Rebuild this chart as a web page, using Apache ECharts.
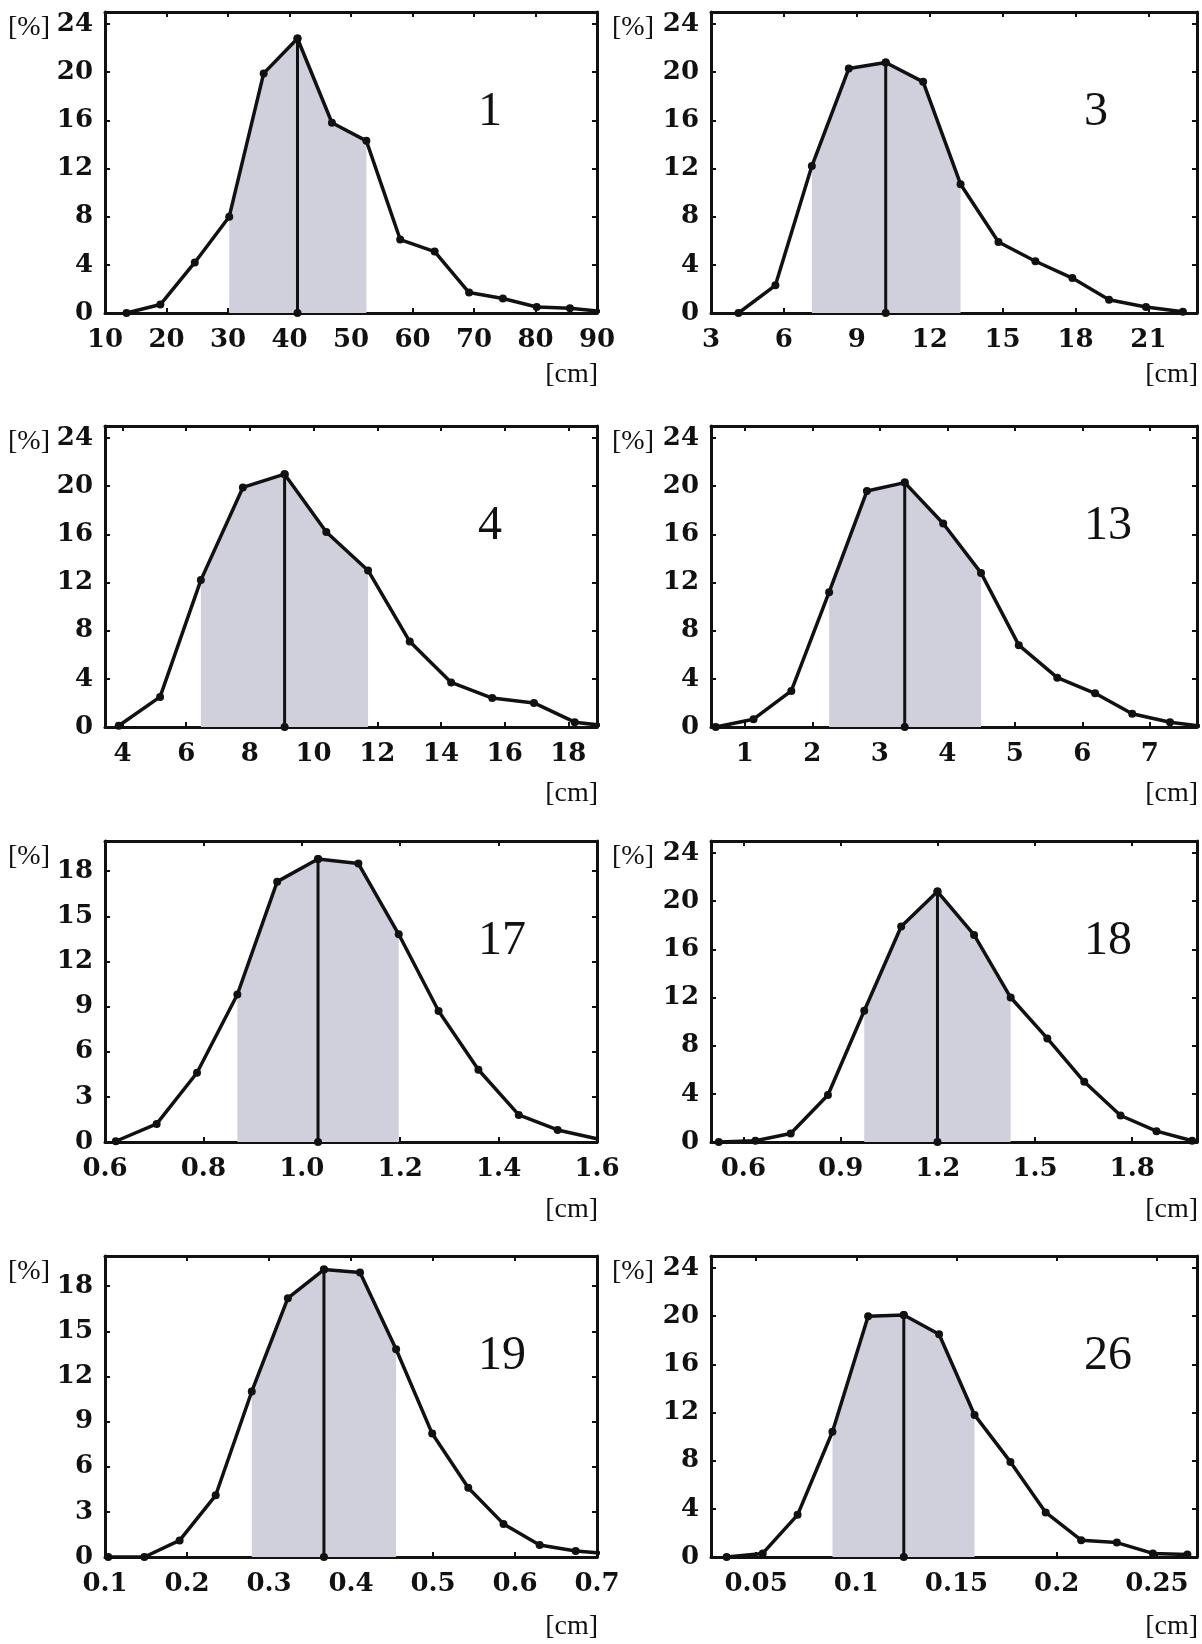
<!DOCTYPE html>
<html>
<head>
<meta charset="utf-8">
<script src="https://cdn.jsdelivr.net/npm/echarts@6/dist/echarts.min.js"></script>
<style>
  html, body { margin: 0; padding: 0; background: #ffffff; }
  #chart { width: 1202px; height: 1644px; }
</style>
</head>
<body>
<div id="chart"></div>
<script>
// Size distributions per sample: class centre [cm] and share [%]
const cm_1  = [13.5, 19.0, 24.6, 30.2, 35.8, 41.3, 46.9, 52.5, 58.0, 63.6, 69.2, 74.7, 80.2, 85.6, 91.2];
const pct_1 = [0.0, 0.7, 4.2, 8.0, 19.9, 22.8, 15.8, 14.3, 6.1, 5.1, 1.7, 1.2, 0.5, 0.4, 0.1];

const cm_3  = [4.13, 5.65, 7.15, 8.67, 10.19, 11.73, 13.27, 14.83, 16.35, 17.87, 19.38, 20.90, 22.42];
const pct_3 = [0.0, 2.3, 12.2, 20.3, 20.8, 19.2, 10.7, 5.9, 4.3, 2.9, 1.1, 0.5, 0.1];

const cm_4  = [3.88, 5.18, 6.46, 7.78, 9.09, 10.40, 11.71, 13.02, 14.32, 15.61, 16.92, 18.20, 19.50];
const pct_4 = [0.1, 2.5, 12.2, 19.9, 21.0, 16.2, 13.0, 7.1, 3.7, 2.4, 2.0, 0.4, 0.0];

const cm_13  = [0.57, 1.13, 1.69, 2.25, 2.81, 3.37, 3.94, 4.50, 5.06, 5.63, 6.19, 6.74, 7.30, 7.86];
const pct_13 = [0.0, 0.65, 3.0, 11.2, 19.6, 20.3, 16.9, 12.8, 6.8, 4.1, 2.8, 1.1, 0.4, 0.0];

const cm_17  = [0.622, 0.705, 0.787, 0.869, 0.950, 1.033, 1.115, 1.197, 1.278, 1.359, 1.441, 1.520, 1.602];
const pct_17 = [0.05, 1.2, 4.6, 9.8, 17.3, 18.8, 18.5, 13.8, 8.7, 4.8, 1.8, 0.8, 0.2];

const cm_18  = [0.524, 0.637, 0.746, 0.861, 0.973, 1.087, 1.199, 1.312, 1.425, 1.538, 1.652, 1.764, 1.875, 1.985];
const pct_18 = [0.0, 0.1, 0.7, 3.9, 10.9, 17.9, 20.8, 17.2, 12.0, 8.6, 5.0, 2.2, 0.9, 0.1];

const cm_19  = [0.104, 0.148, 0.191, 0.235, 0.279, 0.323, 0.367, 0.411, 0.455, 0.499, 0.543, 0.586, 0.630, 0.674, 0.718];
const pct_19 = [0.0, 0.0, 1.1, 4.1, 11.0, 17.2, 19.1, 18.9, 13.8, 8.2, 4.6, 2.2, 0.8, 0.4, 0.2];

const cm_26  = [0.0353, 0.0533, 0.0707, 0.0881, 0.1059, 0.1237, 0.1413, 0.1590, 0.1769, 0.1945, 0.2122, 0.2300, 0.2480, 0.2652];
const pct_26 = [0.0, 0.3, 3.5, 10.4, 20.0, 20.1, 18.5, 11.8, 7.9, 3.7, 1.4, 1.2, 0.3, 0.2];

// Shaded class range (first and last shaded class centre)
const band_1  = [30.2, 52.5];
const band_3  = [7.15, 13.27];
const band_4  = [6.46, 11.71];
const band_13 = [2.25, 4.50];
const band_17 = [0.869, 1.197];
const band_18 = [0.973, 1.425];
const band_19 = [0.279, 0.455];
const band_26 = [0.0881, 0.1590];

// Axis extents
const xr_1  = [10, 90];
const xr_3  = [3, 23];
const xr_4  = [3.45, 18.9];
const xr_13 = [0.5, 7.7];
const xr_17 = [0.6, 1.6];
const xr_18 = [0.5, 2.0];
const xr_19 = [0.1, 0.7];
const xr_26 = [0.0275, 0.27];

// Tick labels
const xt_1  = ['10', '20', '30', '40', '50', '60', '70', '80', '90'];
const xt_3  = ['3', '6', '9', '12', '15', '18', '21'];
const xt_4  = ['4', '6', '8', '10', '12', '14', '16', '18'];
const xt_13 = ['1', '2', '3', '4', '5', '6', '7'];
const xt_17 = ['0.6', '0.8', '1.0', '1.2', '1.4', '1.6'];
const xt_18 = ['0.6', '0.9', '1.2', '1.5', '1.8'];
const xt_19 = ['0.1', '0.2', '0.3', '0.4', '0.5', '0.6', '0.7'];
const xt_26 = ['0.05', '0.1', '0.15', '0.2', '0.25'];
const yt_24 = ['0', '4', '8', '12', '16', '20', '24'];
const yt_18 = ['0', '3', '6', '9', '12', '15', '18'];

const panels = [
  { name: '1',  x: cm_1,  y: pct_1,  band: band_1,  xr: xr_1,  xt: xt_1,  yt: yt_24, ymax: 25 },
  { name: '3',  x: cm_3,  y: pct_3,  band: band_3,  xr: xr_3,  xt: xt_3,  yt: yt_24, ymax: 25 },
  { name: '4',  x: cm_4,  y: pct_4,  band: band_4,  xr: xr_4,  xt: xt_4,  yt: yt_24, ymax: 25 },
  { name: '13', x: cm_13, y: pct_13, band: band_13, xr: xr_13, xt: xt_13, yt: yt_24, ymax: 25 },
  { name: '17', x: cm_17, y: pct_17, band: band_17, xr: xr_17, xt: xt_17, yt: yt_18, ymax: 20 },
  { name: '18', x: cm_18, y: pct_18, band: band_18, xr: xr_18, xt: xt_18, yt: yt_24, ymax: 25 },
  { name: '19', x: cm_19, y: pct_19, band: band_19, xr: xr_19, xt: xt_19, yt: yt_18, ymax: 20 },
  { name: '26', x: cm_26, y: pct_26, band: band_26, xr: xr_26, xt: xt_26, yt: yt_24, ymax: 25 }
];

// Page layout
const INK = '#111111';
const SHADE = '#cfd0db';
const COL_LEFT = [105, 711];
const COL_WIDTH = [492, 486];
const ROW_TOP = [12, 426, 841, 1256];
const ROW_CM = [62, 67, 68, 70];
const BOX_H = 301;
const TICK_FONT = '"DejaVu Serif", serif';
const TEXT_FONT = '"Liberation Serif", "DejaVu Serif", serif';

const grids = [], xAxes = [], yAxes = [], series = [], texts = [];

function axisLineStyle() {
  return { show: true, onZero: false, lineStyle: { color: INK, width: 3 } };
}
function tickStyle(values) {
  return { show: true, inside: true, length: 5, customValues: values, lineStyle: { color: INK, width: 2 } };
}
function labelStyle(values, lookup, margin) {
  return {
    show: true, customValues: values, margin: margin,
    showMinLabel: true, showMaxLabel: true,
    formatter: v => (lookup[v] !== undefined ? lookup[v] : String(v)),
    fontFamily: TICK_FONT, fontWeight: 'bold', fontSize: 26, color: INK
  };
}

panels.forEach((p, i) => {
  const col = i % 2, row = Math.floor(i / 2);
  const left = COL_LEFT[col], width = COL_WIDTH[col], top = ROW_TOP[row];
  grids.push({ left: left, top: top, width: width, height: BOX_H, containLabel: false });

  const xv = p.xt.map(Number), yv = p.yt.map(Number);
  const xl = {}, yl = {};
  p.xt.forEach(s => { xl[Number(s)] = s; });
  p.yt.forEach(s => { yl[Number(s)] = s; });

  xAxes.push({
    type: 'value', gridIndex: i, position: 'bottom', min: p.xr[0], max: p.xr[1],
    splitLine: { show: false }, axisLine: axisLineStyle(), axisTick: tickStyle(xv),
    axisLabel: labelStyle(xv, xl, 14)
  });
  xAxes.push({
    type: 'value', gridIndex: i, position: 'top', min: p.xr[0], max: p.xr[1],
    splitLine: { show: false }, axisLine: axisLineStyle(), axisTick: tickStyle(xv),
    axisLabel: { show: false }
  });
  yAxes.push({
    type: 'value', gridIndex: i, position: 'left', min: 0, max: p.ymax,
    splitLine: { show: false }, axisLine: axisLineStyle(), axisTick: tickStyle(yv),
    axisLabel: labelStyle(yv, yl, 12)
  });
  yAxes.push({
    type: 'value', gridIndex: i, position: 'right', min: 0, max: p.ymax,
    splitLine: { show: false }, axisLine: axisLineStyle(), axisTick: tickStyle(yv),
    axisLabel: { show: false }
  });

  const xi = 2 * i, yi = 2 * i;
  const pts = p.x.map((v, k) => [v, p.y[k]]);
  const shaded = pts.filter(([v]) => v >= p.band[0] - 1e-9 && v <= p.band[1] + 1e-9);

  // area under the curve across the central classes
  series.push({
    type: 'line', xAxisIndex: xi, yAxisIndex: yi, data: shaded,
    symbol: 'none', lineStyle: { width: 0 }, areaStyle: { color: SHADE, opacity: 1 },
    silent: true, z: 1, animation: false
  });
  // distribution curve
  series.push({
    type: 'line', xAxisIndex: xi, yAxisIndex: yi, data: pts, clip: true,
    symbol: 'circle', symbolSize: 8, showSymbol: true, showAllSymbol: true,
    itemStyle: { color: INK }, lineStyle: { color: INK, width: 3.5 },
    silent: true, z: 3, animation: false
  });
  // modal class
  let km = 0;
  p.y.forEach((v, k) => { if (v > p.y[km]) km = k; });
  series.push({
    type: 'line', xAxisIndex: xi, yAxisIndex: yi,
    data: [[p.x[km], 0], [p.x[km], p.y[km]]],
    symbol: 'circle', symbolSize: 8, itemStyle: { color: INK },
    lineStyle: { color: INK, width: 3 }, silent: true, z: 4, animation: false
  });

  texts.push({
    type: 'text', x: left + 373, y: top + 100, silent: true,
    style: { text: p.name, font: '48px ' + TEXT_FONT, fill: INK,
             align: 'left', verticalAlign: 'middle', textAlign: 'left', textVerticalAlign: 'middle' }
  });
  texts.push({
    type: 'text', x: col === 0 ? 29 : 633, y: top + 16, silent: true,
    style: { text: '[%]', font: '28px ' + TEXT_FONT, fill: INK,
             align: 'center', verticalAlign: 'middle', textAlign: 'center', textVerticalAlign: 'middle' }
  });
  texts.push({
    type: 'text', x: left + width + 1, y: top + BOX_H + ROW_CM[row], silent: true,
    style: { text: '[cm]', font: '28px ' + TEXT_FONT, fill: INK,
             align: 'right', verticalAlign: 'middle', textAlign: 'right', textVerticalAlign: 'middle' }
  });
});

const chart = echarts.init(document.getElementById('chart'), null, { renderer: 'canvas' });
chart.setOption({
  backgroundColor: '#ffffff',
  animation: false,
  grid: grids,
  xAxis: xAxes,
  yAxis: yAxes,
  series: series,
  graphic: { elements: texts }
});
</script>
</body>
</html>
